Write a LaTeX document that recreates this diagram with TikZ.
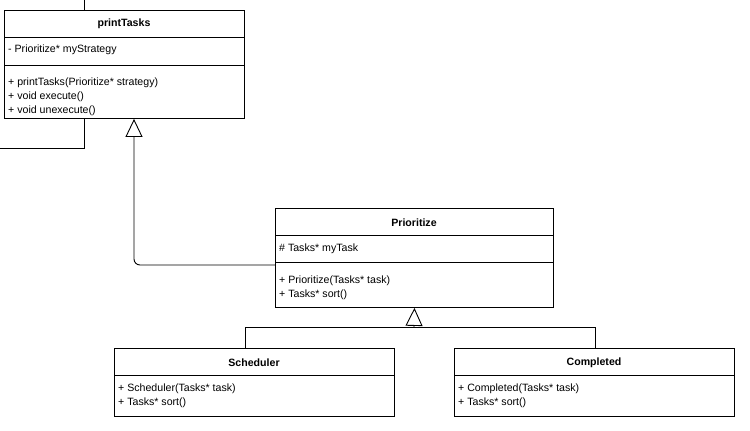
\documentclass[tikz,border=0pt]{standalone}
\usepackage{fontspec}
\setmainfont{Liberation Sans}
\usetikzlibrary{arrows.meta}
\begin{document}
\begin{tikzpicture}[x=1pt,y=-1pt,
  font=\fontsize{10.6}{14}\selectfont,
  classbox/.style={draw, line width=0.9pt, inner sep=0pt, anchor=north west},
  title/.style={font=\fontsize{10.6}{14}\selectfont\bfseries, inner sep=0pt},
  member/.style={anchor=west, inner sep=0pt, align=left},
  members/.style={anchor=north west, inner sep=0pt, align=left},
  divider/.style={line width=0.9pt},
  conn/.style={line width=0.9pt},
  gen/.style={conn, -{Triangle[open, length=18pt, width=17pt]}}
]
\useasboundingbox (0,0) rectangle (750,431);
% printTasks
\node[classbox, minimum width=240pt, minimum height=108pt] (pt) at (4,10) {};
\node[title] (ptT) at (124,24) {printTasks};
\draw[divider] (4,37) -- (244,37);
\draw[divider] (4,65) -- (244,65);
\node[member] (ptA) at (8,50) {- Prioritize* myStrategy};
\node[members] (ptM) at (8,77.5) {+ printTasks(Prioritize* strategy)\\+ void execute()\\+ void unexecute()};
% Prioritize
\node[classbox, minimum width=278pt, minimum height=99pt] (pr) at (275,208) {};
\node[title] (prT) at (414,222.5) {Prioritize};
\draw[divider] (275,235) -- (553,235);
\draw[divider] (275,262) -- (553,262);
\node[member] (prA) at (279,249) {\# Tasks* myTask};
\node[members] (prM) at (279,276) {+ Prioritize(Tasks* task)\\+ Tasks* sort()};
% Scheduler
\node[classbox, minimum width=280pt, minimum height=68pt] (sc) at (114,348) {};
\node[title] (scT) at (254,362.5) {Scheduler};
\draw[divider] (114,375) -- (394,375);
\node[members] (scM) at (118,383.5) {+ Scheduler(Tasks* task)\\+ Tasks* sort()};
% Completed
\node[classbox, minimum width=280pt, minimum height=68pt] (co) at (454,348) {};
\node[title] (coT) at (594,362.5) {Completed};
\draw[divider] (454,375) -- (734,375);
\node[members] (coM) at (458,383.5) {+ Completed(Tasks* task)\\+ Tasks* sort()};
% connectors
\coordinate (topEnd) at (84,0);
\coordinate (leftEnd) at (0,148);
\draw[conn] (topEnd) -- (pt.north west -| topEnd);
\draw[conn] (pt.south west -| topEnd) -- (84,148) -- (leftEnd);
\draw[gen, rounded corners=6pt] (275,265) -- (134,265) -- (pt.south west -| 134,0);
\coordinate (junc) at (414,327);
\draw[gen] (junc) -- (pr.south);
\draw[conn] (sc.north -| 245,0) -- (245,327) -- (595,327) -- (co.north -| 595,0);
\end{tikzpicture}
\end{document}
